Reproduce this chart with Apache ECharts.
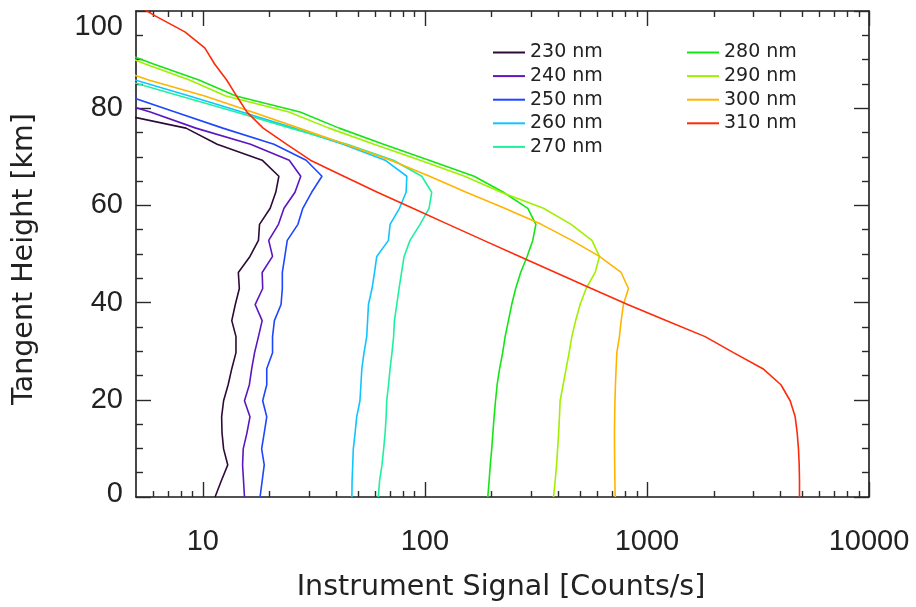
<!DOCTYPE html>
<html>
<head>
<meta charset="utf-8">
<script src="https://cdn.jsdelivr.net/npm/echarts@6/dist/echarts.min.js"></script>
<style>
  html, body { margin: 0; padding: 0; background: #ffffff; }
  #chart { width: 916px; height: 607px; }
</style>
</head>
<body>
<div id="chart"></div>
<script>
// Tangent heights of the limb scan (km)
const heights = [0, 3.3, 6.6, 9.9, 13.2, 16.5, 19.8, 23.1, 26.4, 29.7, 33.0, 36.3, 39.6, 42.9,
  46.2, 49.5, 52.8, 56.1, 59.4, 62.7, 66.0, 69.3, 72.6, 75.9, 79.2, 82.5, 85.8, 89.1, 92.4,
  95.7, 99.0, 102.3];

const wavelengths = ['230 nm', '240 nm', '250 nm', '260 nm', '270 nm', '280 nm', '290 nm', '300 nm', '310 nm'];
const lineColors = ['#2d0b36', '#5a16c0', '#1e46ff', '#10c4ff', '#1ef0a0', '#14e614', '#a0f000', '#ffb400', '#ff2a0a'];

// Instrument signal (counts/s) per tangent height, one list per wavelength
const signal230 = [11.35, 12.1, 12.95, 12.4, 12.2, 12.15, 12.4, 13.0, 13.5, 14.1, 14.1, 13.5, 14.0, 14.6,
  14.45, 16.3, 17.8, 18.0, 20.1, 21.3, 22.0, 18.5, 11.6, 8.4, 3.8];
const signal240 = [15.4, 15.25, 15.1, 15.2, 15.8, 16.3, 15.4, 16.2, 16.6, 17.1, 17.8, 18.5, 17.2, 18.6,
  18.5, 20.6, 19.8, 21.9, 23.2, 26.0, 27.6, 24.5, 16.4, 9.3, 5.8, 3.4];
const signal250 = [18.1, 18.5, 18.9, 18.4, 18.9, 19.4, 18.6, 19.4, 19.4, 20.6, 20.6, 21.0, 22.5, 22.8,
  22.8, 23.4, 24.0, 26.8, 28.2, 30.9, 34.4, 29.2, 20.9, 12.3, 7.5, 4.6];
const signal260 = [46.9, 47.0, 47.3, 47.6, 48.5, 49.3, 51.0, 51.5, 52.0, 53.2, 54.7, 55.2, 55.7, 57.8,
  59.3, 60.7, 68.5, 69.7, 76.8, 82.3, 82.9, 66.2, 42.8, 25.7, 15.0, 8.7, 4.95, 3.0];
const signal270 = [61.7, 62.5, 64.1, 65.2, 66.2, 66.9, 67.3, 68.6, 69.7, 71.1, 72.3, 72.9, 74.7, 76.5,
  78.5, 80.6, 85.7, 95.1, 104.4, 107.3, 96.8, 72.1, 44.6, 24.9, 14.1, 7.9, 4.45, 2.7];
const signal280 = [192, 194.6, 197, 200, 202.4, 205, 208, 211.5, 217, 224, 229.8, 237.8, 246, 256.3,
  269.9, 288.6, 306, 316, 290.8, 225.7, 166.6, 104.4, 65.1, 41.1, 27.4, 14.1, 9.6, 6.0, 3.8];
const signal290 = [379.4, 386, 391.8, 396, 400.3, 403.6, 406.4, 419.4, 432.5, 446.2, 458.9, 477.5, 500,
  532, 584.4, 611, 564.9, 455.6, 341.9, 220.4, 151, 95.1, 59.0, 37.0, 24.4, 12.7, 8.7, 5.5, 3.6];
const signal300 = [719.4, 717, 715.5, 714.5, 713.9, 715.5, 717.7, 721.2, 726.3, 731.9, 751.6, 765.2,
  783.4, 825.4, 765.2, 611, 458.9, 334.4, 228.8, 153.5, 105, 70.1, 43.9, 27.1, 16.7, 10.2, 5.7, 3.5];
const signal310 = [4864, 4864, 4849, 4813, 4749, 4651, 4416, 4011, 3327, 2453, 1828, 1219, 818.5, 562,
  387.5, 267.1, 184.0, 127.4, 88.2, 61.1, 43.1, 30.5, 23.8, 18.7, 15.8, 14.2, 12.8, 11.3, 10.2, 8.3,
  6.1, 4.6];

const signals = [signal230, signal240, signal250, signal260, signal270, signal280, signal290, signal300, signal310];

// Axis ticks
const xMajorTicks = [10, 100, 1000, 10000];
const xMinorTicks = [6, 7, 8, 9, 20, 30, 40, 50, 60, 70, 80, 90, 200, 300, 400, 500, 600, 700, 800, 900,
  2000, 3000, 4000, 5000, 6000, 7000, 8000, 9000];

const xTitle = 'Instrument Signal [Counts/s]';
const yTitle = 'Tangent Height [km]';

const tickFont = 'Liberation Sans, Arial, Helvetica, sans-serif';
const textFont = 'DejaVu Sans, sans-serif';
const frameStyle = { color: '#1a1a1a', width: 1.6 };
const tickStyle = { color: '#2a2a2a', width: 1.4 };

function logXAxis(position, ticks, length, withLine, withLabels) {
  return {
    type: 'log', logBase: 10, min: 5, max: 10000, position: position,
    axisLine: { show: withLine, onZero: false, lineStyle: frameStyle },
    axisTick: { show: true, inside: true, length: length, lineStyle: tickStyle, customValues: ticks },
    axisLabel: withLabels ? {
      show: true, customValues: xMajorTicks, margin: 30,
      fontFamily: tickFont, fontSize: 29, color: '#222',
      formatter: function (v) { return String(Math.round(v)); }
    } : { show: false },
    splitLine: { show: false }, minorTick: { show: false }, minorSplitLine: { show: false }
  };
}

function heightAxis(position, withLabels) {
  return {
    type: 'value', min: 0, max: 100, interval: 20, position: position,
    axisLine: { show: true, onZero: false, lineStyle: frameStyle },
    axisTick: { show: true, inside: true, length: 15, lineStyle: tickStyle },
    minorTick: { show: true, splitNumber: 4, length: 7, lineStyle: tickStyle },
    splitLine: { show: false }, minorSplitLine: { show: false },
    axisLabel: withLabels ? {
      show: true, margin: 13, fontFamily: tickFont, fontSize: 29, color: '#222',
      formatter: function (v) {
        if (v === 100) return '{top|' + v + '}';
        if (v === 0) return '{bot|' + v + '}';
        return '{n|' + v + '}';
      },
      rich: {
        n: { fontFamily: tickFont, fontSize: 29, color: '#222' },
        top: { fontFamily: tickFont, fontSize: 29, color: '#222', padding: [32, 0, 0, 0] },
        bot: { fontFamily: tickFont, fontSize: 29, color: '#222', padding: [0, 0, 7, 0] }
      }
    } : { show: false }
  };
}

const series = wavelengths.map(function (name, k) {
  return {
    name: name,
    type: 'line',
    xAxisIndex: 0,
    yAxisIndex: 0,
    data: signals[k].map(function (v, i) { return [v, heights[i]]; }),
    showSymbol: false,
    symbol: 'none',
    clip: true,
    lineStyle: { color: lineColors[k], width: 1.6 },
    itemStyle: { color: lineColors[k] },
    emphasis: { disabled: true }
  };
});

const legendCommon = {
  orient: 'vertical', top: 42.5, padding: 0, itemGap: 3.6,
  icon: 'rect', itemWidth: 32, itemHeight: 2,
  selectedMode: false,
  textStyle: { fontFamily: textFont, fontSize: 19, color: '#222', lineHeight: 20 }
};

const chart = echarts.init(document.getElementById('chart'), null, { renderer: 'canvas' });
chart.setOption({
  animation: false,
  backgroundColor: '#ffffff',
  grid: { left: 136, right: 47, top: 11, bottom: 110, containLabel: false },
  xAxis: [
    logXAxis('bottom', xMajorTicks, 15, true, true),
    logXAxis('bottom', xMinorTicks, 6, false, false),
    logXAxis('top', xMajorTicks, 15, true, false),
    logXAxis('top', xMinorTicks, 6, false, false)
  ],
  yAxis: [heightAxis('left', true), heightAxis('right', false)],
  legend: [
    Object.assign({ left: 493, data: wavelengths.slice(0, 5) }, legendCommon),
    Object.assign({ left: 687, data: wavelengths.slice(5) }, legendCommon)
  ],
  graphic: [
    { type: 'text', x: 501, y: 588,
      style: { text: xTitle, fontFamily: textFont, fontSize: 28.5, fill: '#222',
               textAlign: 'center', textVerticalAlign: 'middle' } },
    { type: 'text', x: 25, y: 259, rotation: Math.PI / 2,
      style: { text: yTitle, fontFamily: textFont, fontSize: 28.5, fill: '#222',
               textAlign: 'center', textVerticalAlign: 'middle' } }
  ],
  series: series
});
</script>
</body>
</html>
